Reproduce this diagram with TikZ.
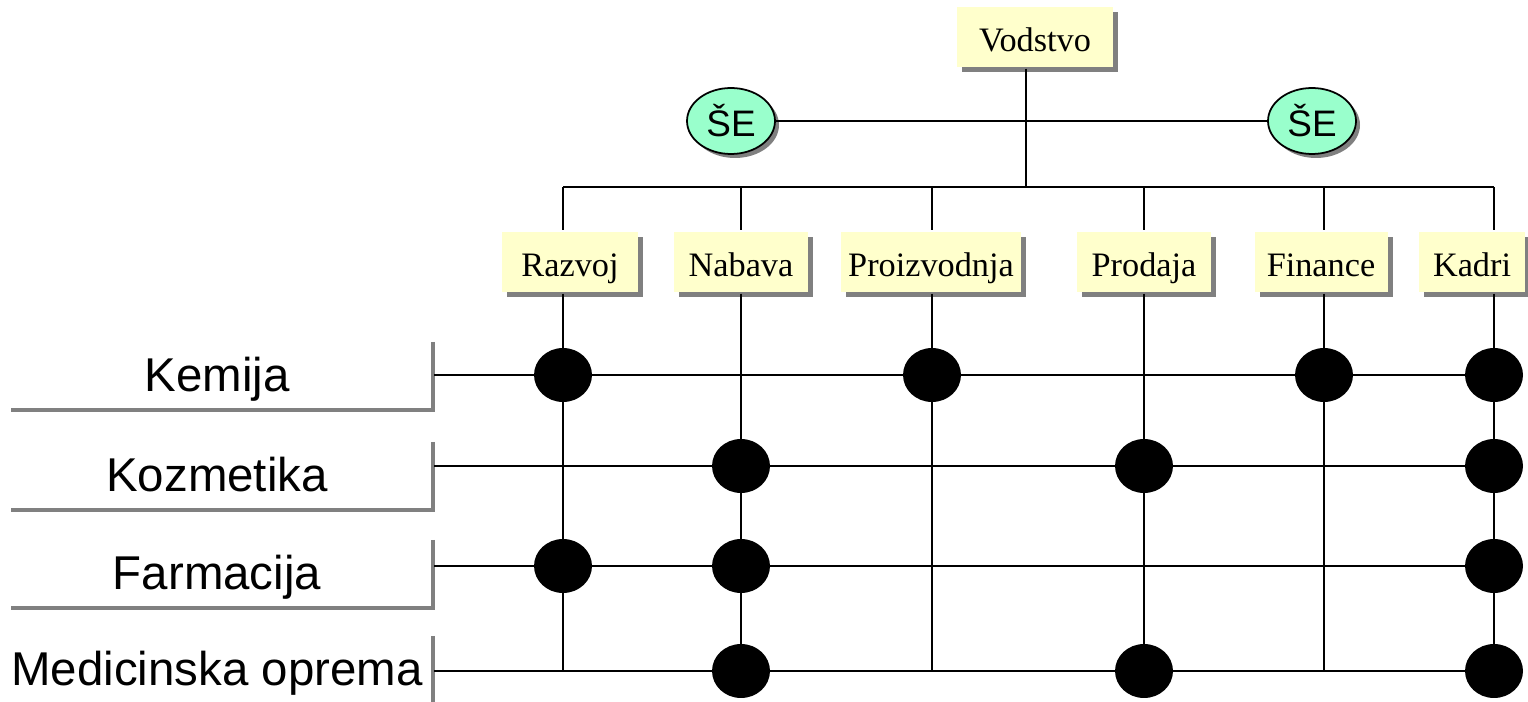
\documentclass[tikz,border=0pt]{standalone}
\usepackage{fontspec}
\setmainfont{Liberation Serif}
\newfontfamily\arialfont{Liberation Sans}
\usetikzlibrary{shapes.geometric,shadows}
\definecolor{boxyellow}{HTML}{FFFFCC}
\definecolor{mint}{HTML}{99FFCC}
\definecolor{shadegray}{HTML}{808080}
\tikzset{
  dept/.style={fill=boxyellow, inner sep=0pt, minimum height=1.22cm,
    text height=16pt, text depth=0pt, font=\fontsize{19.5}{24}\selectfont,
    drop shadow={fill=shadegray, opacity=1, shadow xshift=0.1cm, shadow yshift=-0.1cm}},
  se/.style={ellipse, draw, fill=mint, line width=1pt, inner sep=0pt,
    minimum width=1.76cm, minimum height=1.32cm, font=\arialfont\fontsize{21}{24}\selectfont,
    drop shadow={fill=shadegray, opacity=1, shadow xshift=0.08cm, shadow yshift=-0.08cm}},
  sector/.style={inner sep=0pt, minimum width=8.4cm, minimum height=1.32cm,
    text height=26pt, text depth=2.6pt, font=\arialfont\fontsize{27}{30}\selectfont},
  sectorshade/.style={shadegray, line width=1.9pt},
  dot/.style={ellipse, fill=black, inner sep=0pt, minimum width=1.16cm, minimum height=1.08cm}
}
\begin{document}
\begin{tikzpicture}[x=0.02cm, y=-0.02cm, line width=1.2pt]
  \useasboundingbox (0,0) rectangle (1528,702);
  % top of the tree
  \node[dept, minimum width=3.14cm] (vodstvo) at (1035,37) {Vodstvo};
  \node[se] (se-left) at (731,121) {ŠE};
  \node[se] (se-right) at (1312,121) {ŠE};
  \draw (se-left) -- (se-right);
  \coordinate (bus-vod) at (1026,187);
  \draw (bus-vod |- vodstvo.south) -- (bus-vod);
  % departments
  \foreach \n/\x/\w/\t/\c in {razvoj/570/2.72cm/Razvoj/563, nabava/741/2.68cm/Nabava/741,
      proizvodnja/931/3.62cm/Proizvodnja/932, prodaja/1144/2.68cm/Prodaja/1144,
      finance/1321/2.66cm/Finance/1324, kadri/1472/2.12cm/Kadri/1494}{
    \node[dept, minimum width=\w] (\n) at (\x,262) {\t};
    \coordinate (top-\n) at (\c,187);
    \coordinate (bot-\n) at (\c,671);
    \draw (top-\n) -- (top-\n |- \n.north);
    \draw (top-\n |- \n.south) -- (bot-\n);
  }
  \draw (top-razvoj) -- (top-kadri);
  % business areas
  \foreach \n/\y/\ry/\t in {kemija/371/375/Kemija, kozmetika/471/466/Kozmetika,
      farmacija/569/566/Farmacija, medicinska/665/671/Medicinska oprema}{
    \node[sector] (\n) at (217,\y) {\t};
    \draw[sectorshade] ([shift={(5,5)}]\n.north east) -- ([shift={(5,5)}]\n.south east)
      -- ([shift={(5,5)}]\n.south west);
    \coordinate (row-\n) at (434,\ry);
    \draw (row-\n) -- (row-\n -| bot-kadri);
  }
  % crossings
  \foreach \r/\c in {kemija/razvoj, kemija/proizvodnja, kemija/finance, kemija/kadri,
      kozmetika/nabava, kozmetika/prodaja, kozmetika/kadri,
      farmacija/razvoj, farmacija/nabava, farmacija/kadri,
      medicinska/nabava, medicinska/prodaja, medicinska/kadri}
    \node[dot] at (top-\c |- row-\r) {};
\end{tikzpicture}
\end{document}
